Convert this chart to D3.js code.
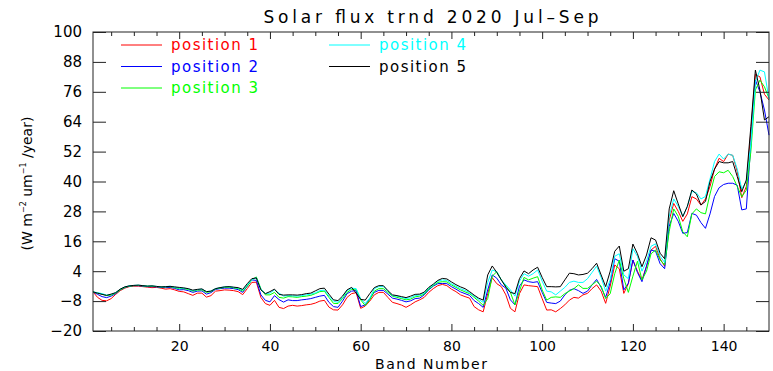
<html>
<head>
<meta charset="utf-8">
<title>Solar flux trnd</title>
<script src="https://d3js.org/d3.v7.min.js"></script>
<style>
  body { margin: 0; background: #fff; }
  text { font-family: "DejaVu Sans", sans-serif; fill: #000; }
  .frame { fill: none; stroke: #222; stroke-width: 1px; }
  .tick line { stroke: #222; }
  .series { fill: none; stroke-width: 1px; }
</style>
</head>
<body>
<div id="chart"></div>
<script>

// band axis and tick lists
var bands = d3.range(1, 151);
var xMajor = [20, 40, 60, 80, 100, 120, 140];
var xMinor = [5, 10, 15, 25, 30, 35, 45, 50, 55, 65, 70, 75, 85, 90, 95, 105, 110, 115, 125, 130, 135, 145];
var yTicks = [-20, -8, 4, 16, 28, 40, 52, 64, 76, 88, 100];

var names = ["position 1", "position 2", "position 3", "position 4", "position 5"];
var colors = ["#ff0000", "#0000ff", "#00ff00", "#00ffff", "#000000"];

// values, band 1..150
var pos1 = [
  -4.3,-6.5,-7.7,-7.9,-7.0,-5.3,-3.8,-2.8,-2.2,-2.0,
  -2.0,-2.2,-2.4,-2.6,-2.5,-2.8,-3.2,-3.0,-3.5,-4.1,
  -4.3,-5.0,-5.7,-4.8,-4.8,-6.4,-5.8,-4.0,-3.8,-3.5,
  -3.6,-3.8,-4.2,-5.4,-3.0,-0.5,-0.4,-6.5,-9.0,-9.7,
  -7.7,-10.5,-11.0,-10.0,-9.7,-10.0,-9.8,-9.5,-9.3,-8.8,
  -8.0,-7.7,-10.4,-11.5,-11.6,-9.5,-6.5,-5.0,-4.6,-10.9,
  -10.0,-8.0,-5.5,-4.5,-4.5,-6.5,-8.5,-9.0,-9.6,-10.5,
  -9.5,-8.3,-7.5,-6.5,-4.5,-3.0,-1.8,-1.3,-1.8,-3.2,
  -4.2,-5.5,-6.2,-6.8,-10.2,-11.5,-12.3,-5.0,1.4,-1.0,
  -2.2,-5.5,-10.9,-12.3,-5.0,-1.5,-1.8,-2.0,-2.2,-7.0,
  -11.6,-11.5,-12.3,-11.0,-9.5,-7.6,-6.5,-6.8,-5.5,-4.9,
  -3.0,-1.5,-4.0,-8.9,-2.0,6.5,5.0,-4.9,-1.0,8.5,
  4.0,0.5,6.0,12.5,14.0,9.0,6.0,24.5,31.2,28.0,
  24.0,27.0,33.9,33.0,30.5,33.0,38.0,45.0,49.3,48.0,
  51.0,50.5,44.0,33.5,38.0,60.0,83.0,82.0,75.0,72.7
];
var pos2 = [
  -4.3,-5.3,-6.2,-6.6,-6.0,-5.0,-3.5,-2.6,-2.0,-1.8,
  -1.8,-2.0,-2.2,-2.2,-2.3,-2.5,-2.6,-2.5,-2.9,-3.5,
  -3.4,-3.8,-4.5,-4.0,-3.9,-5.2,-4.6,-3.3,-3.0,-2.8,
  -2.8,-3.0,-3.4,-4.5,-2.0,0.5,0.3,-5.5,-7.7,-8.3,
  -5.8,-7.4,-8.4,-7.5,-7.8,-7.8,-7.5,-7.3,-7.0,-6.5,
  -6.0,-5.7,-8.5,-10.2,-10.5,-8.0,-5.0,-4.0,-3.8,-10.2,
  -9.5,-7.0,-4.5,-3.7,-3.7,-5.2,-6.8,-7.2,-7.7,-8.3,
  -7.9,-7.0,-6.8,-5.5,-3.5,-2.0,-1.0,-0.9,-1.0,-2.2,
  -3.2,-4.3,-5.0,-5.7,-7.8,-9.0,-10.5,-3.5,2.5,1.2,
  -1.5,-2.8,-7.5,-9.5,-2.0,0.5,-0.2,-0.5,-0.2,-4.5,
  -8.5,-8.8,-9.0,-8.0,-5.5,-3.7,-3.0,-3.8,-4.9,-4.0,
  -1.5,0.7,-2.5,-6.5,-0.5,9.0,8.0,-3.5,-0.8,8.5,
  3.5,-0.2,6.0,12.5,12.0,7.0,5.0,22.0,27.2,24.0,
  19.2,19.5,27.2,26.5,23.5,21.2,27.0,34.0,37.5,38.8,
  39.3,39.3,38.5,28.6,29.0,55.0,80.7,76.0,68.7,58.6
];
var pos3 = [
  -4.3,-4.8,-5.2,-5.8,-5.6,-4.8,-3.5,-2.5,-2.0,-1.8,
  -1.7,-1.9,-2.0,-2.0,-2.2,-2.3,-2.3,-2.2,-2.6,-3.0,
  -3.0,-3.3,-4.0,-3.6,-3.5,-4.5,-4.2,-3.1,-2.8,-2.5,
  -2.4,-2.7,-3.0,-4.0,-2.0,0.5,1.7,-3.0,-5.5,-5.5,
  -4.5,-6.5,-6.8,-6.2,-6.3,-6.5,-6.2,-6.0,-5.7,-5.0,
  -4.2,-4.0,-6.5,-8.9,-9.0,-7.0,-4.5,-3.3,-3.2,-7.5,
  -9.8,-7.5,-4.0,-3.0,-3.0,-4.5,-6.0,-6.5,-7.0,-7.5,
  -7.2,-6.3,-6.0,-5.2,-3.2,-1.8,-0.5,-0.2,-0.3,-1.5,
  -2.5,-3.5,-4.3,-5.0,-6.5,-8.0,-9.7,-7.0,2.0,3.8,
  0.5,-2.0,-4.5,-9.5,-4.0,1.5,0.5,1.2,1.8,-3.5,
  -7.6,-6.5,-6.3,-6.5,-5.0,-4.0,-3.0,-1.5,-2.9,-2.9,
  -1.5,0.0,-2.0,-7.0,-5.0,3.0,8.5,1.0,-4.5,2.0,
  8.0,0.5,4.0,11.0,12.5,8.5,6.5,20.0,29.0,26.0,
  19.8,17.8,27.0,29.0,27.5,27.0,35.0,42.0,43.9,43.5,
  44.5,42.0,38.0,33.9,36.5,52.0,76.7,80.7,78.0,73.4
];
var pos4 = [
  -4.3,-4.6,-5.0,-5.6,-5.3,-4.6,-3.2,-2.3,-1.9,-1.7,
  -1.6,-1.8,-2.0,-1.9,-2.1,-2.3,-2.2,-2.0,-2.4,-2.8,
  -2.8,-3.1,-3.8,-3.4,-3.2,-4.2,-4.0,-3.0,-2.6,-2.3,
  -2.2,-2.5,-2.8,-3.6,-1.5,0.6,1.4,-3.2,-5.0,-4.8,
  -3.5,-4.8,-6.0,-5.8,-5.9,-6.0,-5.8,-5.5,-5.2,-4.7,
  -3.8,-3.6,-6.0,-8.0,-8.5,-6.5,-3.8,-2.8,-3.0,-7.0,
  -9.0,-6.8,-3.0,-2.2,-2.2,-4.0,-5.8,-6.0,-6.5,-7.0,
  -6.6,-5.8,-5.5,-4.8,-2.8,-1.5,0.0,0.5,0.3,-1.0,
  -2.0,-3.0,-3.7,-4.6,-6.0,-7.3,-8.5,-0.5,4.5,3.8,
  0.5,-1.5,-3.5,-6.0,0.0,3.0,2.0,3.0,4.5,0.0,
  -4.0,-4.3,-5.5,-4.0,-2.5,-0.5,0.0,-0.5,-0.5,1.0,
  3.5,6.0,1.5,-4.0,0.5,10.0,11.0,2.5,1.0,13.0,
  10.0,4.0,8.0,14.0,15.0,10.0,7.5,26.0,33.0,30.0,
  26.0,30.0,36.0,35.5,33.0,34.0,41.0,48.0,51.0,49.0,
  51.0,50.5,45.0,37.0,40.0,55.0,80.0,84.7,84.0,73.0
];
var pos5 = [
  -4.3,-4.8,-5.3,-5.7,-5.2,-4.6,-3.2,-2.3,-1.9,-1.7,
  -1.6,-1.8,-2.0,-1.9,-2.1,-2.3,-2.2,-2.1,-2.3,-2.5,
  -2.7,-3.0,-3.6,-3.3,-3.1,-4.2,-4.0,-3.0,-2.6,-2.3,
  -2.2,-2.4,-2.6,-3.3,-1.0,1.0,1.3,-3.5,-5.0,-4.2,
  -3.2,-5.3,-5.6,-5.5,-5.5,-5.6,-5.4,-5.0,-4.8,-3.9,
  -3.0,-2.8,-5.2,-7.5,-7.8,-6.0,-3.5,-2.5,-4.8,-7.3,
  -7.6,-5.0,-2.6,-1.8,-1.8,-3.8,-5.5,-5.8,-6.2,-6.6,
  -6.0,-5.3,-5.2,-4.4,-2.5,-1.2,0.3,1.1,0.9,-0.3,
  -1.4,-2.3,-3.0,-4.2,-5.6,-6.8,-7.6,2.5,6.1,3.5,
  0.5,-2.4,-4.5,-5.0,1.0,4.1,3.0,4.5,5.6,1.5,
  -2.2,-2.2,-2.3,-2.2,0.5,3.2,3.0,2.5,2.7,3.2,
  5.0,7.2,2.5,-2.2,4.0,12.0,14.1,4.0,5.0,14.9,
  11.0,5.8,10.5,17.4,16.5,11.2,9.0,29.0,36.3,31.0,
  25.9,30.0,36.6,35.0,30.6,32.0,40.0,45.0,48.0,47.5,
  47.5,48.0,42.0,35.9,40.6,62.0,84.7,76.7,64.7,66.0
];
var series = [pos1, pos2, pos3, pos4, pos5];

var width = 773, height = 371;
var plotLeft = 93, plotRight = 769, plotTop = 32, plotBottom = 331;

var svg = d3.select("#chart").append("svg")
    .attr("width", width)
    .attr("height", height);

var x = d3.scaleLinear().domain([1, 150]).range([plotLeft, plotRight]);
var y = d3.scaleLinear().domain([-20, 100]).range([plotBottom, plotTop]);

// data lines (drawn first so the frame sits on top)
var line = d3.line()
    .x(function(d, i) { return x(bands[i]); })
    .y(function(d) { return y(d); });

svg.selectAll("path.series").data(series).enter().append("path")
    .attr("class", "series")
    .attr("d", line)
    .style("stroke", function(d, i) { return colors[i]; });

// axes, IDL style: ticks point into the plot
svg.append("g").attr("transform", "translate(0," + plotBottom + ")")
    .call(d3.axisBottom(x).tickValues(xMajor).tickSizeInner(-7).tickSizeOuter(0).tickPadding(10))
    .call(function(g) { g.select(".domain").remove(); g.selectAll("text").style("font-size", "14px").style("font-family", "DejaVu Sans"); });
svg.append("g").attr("transform", "translate(0," + plotBottom + ")")
    .call(d3.axisBottom(x).tickValues(xMinor).tickSizeInner(-4).tickSizeOuter(0).tickFormat(""))
    .call(function(g) { g.select(".domain").remove(); });
svg.append("g").attr("transform", "translate(0," + plotTop + ")")
    .call(d3.axisTop(x).tickValues(xMajor).tickSizeInner(-7).tickSizeOuter(0).tickFormat(""))
    .call(function(g) { g.select(".domain").remove(); });
svg.append("g").attr("transform", "translate(0," + plotTop + ")")
    .call(d3.axisTop(x).tickValues(xMinor).tickSizeInner(-4).tickSizeOuter(0).tickFormat(""))
    .call(function(g) { g.select(".domain").remove(); });

svg.append("g").attr("transform", "translate(" + plotLeft + ",0)")
    .call(d3.axisLeft(y).tickValues(yTicks).tickSizeInner(-13).tickSizeOuter(0).tickPadding(11).tickFormat(function(d) { return d < 0 ? "\u2212" + (-d) : d; }))
    .call(function(g) { g.select(".domain").remove(); g.selectAll("text").style("font-size", "15px").style("font-family", "DejaVu Sans"); });
svg.append("g").attr("transform", "translate(" + plotRight + ",0)")
    .call(d3.axisRight(y).tickValues(yTicks).tickSizeInner(-13).tickSizeOuter(0).tickFormat(""))
    .call(function(g) { g.select(".domain").remove(); });

svg.append("rect").attr("class", "frame")
    .attr("x", plotLeft).attr("y", plotTop)
    .attr("width", plotRight - plotLeft).attr("height", plotBottom - plotTop);

// titles
svg.append("text")
    .attr("x", (plotLeft + plotRight) / 2).attr("y", 23)
    .attr("text-anchor", "middle")
    .attr("textLength", 335).attr("lengthAdjust", "spacing")
    .style("font-size", "17px")
    .text("Solar flux trnd 2020 Jul\u2013Sep");

svg.append("text")
    .attr("x", (plotLeft + plotRight) / 2).attr("y", 369)
    .attr("text-anchor", "middle")
    .attr("textLength", 112).attr("lengthAdjust", "spacing")
    .style("font-size", "14px")
    .text("Band Number");

var ylab = svg.append("text")
    .attr("transform", "translate(32," + ((plotTop + plotBottom) / 2 + 2) + ") rotate(-90)")
    .attr("text-anchor", "middle")
    .style("font-size", "14px");
ylab.append("tspan").text("(W m");
ylab.append("tspan").attr("dy", -6).style("font-size", "8px").text("\u22122");
ylab.append("tspan").attr("dy", 6).text(" um");
ylab.append("tspan").attr("dy", -6).style("font-size", "8px").text("\u22121");
ylab.append("tspan").attr("dy", 6).text(" /year)");

// legend
var legend = svg.selectAll("g.legend").data(names).enter().append("g")
    .attr("class", "legend")
    .attr("transform", function(d, i) {
      var col = i < 3 ? 0 : 1, row = i < 3 ? i : i - 3;
      return "translate(" + (121 + col * 208) + "," + (45 + row * 21.5) + ")";
    });
legend.append("line")
    .attr("x1", 0).attr("x2", 41).attr("y1", 0).attr("y2", 0)
    .style("stroke", function(d, i) { return colors[i]; });
legend.append("text")
    .attr("x", 50).attr("y", 5)
    .attr("textLength", 87).attr("lengthAdjust", "spacing")
    .style("font-size", "15px")
    .style("fill", function(d, i) { return colors[i]; })
    .text(function(d) { return d; });

</script>
</body>
</html>
